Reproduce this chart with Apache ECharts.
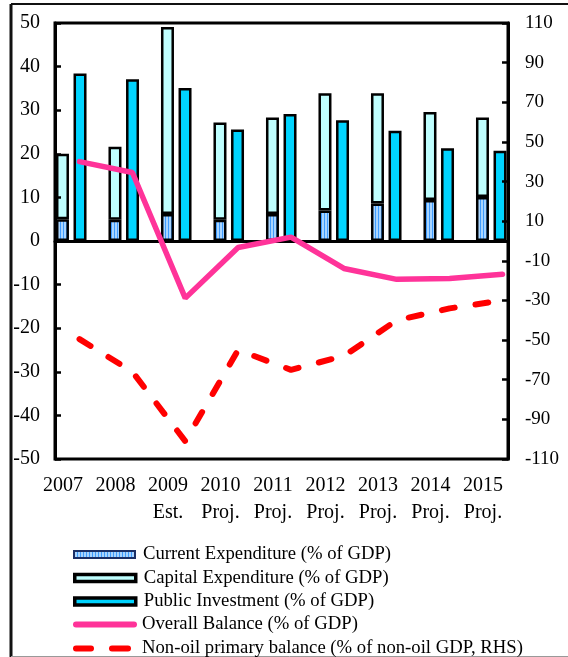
<!DOCTYPE html>
<html><head><meta charset="utf-8">
<script src="https://cdn.jsdelivr.net/npm/echarts@6/dist/echarts.min.js"></script>
<style>html,body{margin:0;padding:0;background:#fff}#c{width:568px;height:657px}</style>
</head><body><div id="c"></div>
<script>
const years = ['2007','2008','2009','2010','2011','2012','2013','2014','2015'];
const yearLabels = ['2007','2008','2009\nEst.','2010\nProj.','2011\nProj.','2012\nProj.','2013\nProj.','2014\nProj.','2015\nProj.'];
const currentExp = [5.0, 4.9, 6.2, 4.9, 6.2, 7.0, 8.6, 9.4, 10.1];
const capitalExp = [15.0, 16.7, 42.9, 22.3, 22.1, 26.9, 25.3, 20.2, 18.2];
const publicInv = [38.4, 37.1, 35.1, 25.6, 29.1, 27.7, 25.3, 21.3, 20.7];
const overallBal = [18.2, 15.7, -13.1, -1.5, 0.9, -6.3, -8.8, -8.6, -7.6];
const nonOilBal = [-49.5, -66, -101, -55, -65, -58, -40, -34, -30];
const leftTicks = {min: -50, max: 50, interval: 10};
const rightTicks = [-110, -90, -70, -50, -30, -10, 10, 30, 50, 70, 90, 110];

const names = ['Current Expenditure (% of GDP)','Capital Expenditure (% of GDP)','Public Investment (% of GDP)','Overall Balance (% of GDP)','Non-oil primary balance (% of non-oil GDP, RHS)'];

const pc = document.createElement('canvas');
pc.width = 3; pc.height = 4;
const ctx = pc.getContext('2d');
ctx.fillStyle = '#a9d5ff'; ctx.fillRect(0,0,3,4);
ctx.fillStyle = '#3f9cff'; ctx.fillRect(0,0,1,4);
const stripe = {image: pc, repeat: 'repeat'};

const FONT = 'Liberation Serif';
const chart = echarts.init(document.getElementById('c'));
const T = 23, B = 198;
const hiddenY = (g, mn, mx) => ({type:'value', gridIndex:g, min:mn, max:mx, show:false, splitLine:{show:false}});

const pillIcon = 'path://M3,0 H61 A3,3 0 0 1 61,6 H3 A3,3 0 0 1 3,0 Z';
const dashIcon = 'path://M3,0 H18 A3,3 0 0 1 18,6 H3 A3,3 0 0 1 3,0 Z M39,0 H55 A3,3 0 0 1 55,6 H39 A3,3 0 0 1 39,0 Z';
const legendCfg = [
  {top:545, icon:'rect', w:61, h:7, itemStyle:{borderColor:'#1b2f66', borderWidth:2}, pad:3},
  {top:568.5, icon:'rect', w:61, h:7, itemStyle:{borderColor:'#000', borderWidth:3.5}, pad:3},
  {top:592, icon:'rect', w:61, h:7, itemStyle:{borderColor:'#000', borderWidth:3.5}, pad:3},
  {top:615, icon:pillIcon, w:64, h:6, itemStyle:{borderWidth:0}, pad:0},
  {top:639, icon:dashIcon, w:58, h:6, itemStyle:{borderWidth:0}, pad:6}
];
const legends = names.map((n, i) => ({
  data: [n], left: 73, top: legendCfg[i].top, orient: 'horizontal',
  itemWidth: legendCfg[i].w, itemHeight: legendCfg[i].h, icon: legendCfg[i].icon,
  itemStyle: legendCfg[i].itemStyle,
  textStyle: {fontFamily: FONT, fontSize: 18.7, color: '#000', padding:[0,0,0,legendCfg[i].pad]},
  padding: 0, selectedMode: false
}));

chart.setOption({
  animation: false,
  backgroundColor: '#fff',
  graphic: [
    {type:'line', shape:{x1:11, y1:4, x2:568, y2:4}, style:{stroke:'#111', lineWidth:2}},
    {type:'line', shape:{x1:11, y1:4, x2:11, y2:657}, style:{stroke:'#111', lineWidth:3}},
    {type:'line', shape:{x1:11, y1:656.5, x2:568, y2:656.5}, style:{stroke:'#999', lineWidth:1}}
  ],
  legend: legends,
  grid: [
    {left:55, right:60, top:T, bottom:B, show:true, borderColor:'#000', borderWidth:3, backgroundColor:'transparent', z:3},
    {left:45, right:50.5, top:T, bottom:B},
    {left:79.5, right:65.5, top:T, bottom:B},
    {left:63, right:85, top:T, bottom:B}
  ],
  xAxis: [
    {type:'category', gridIndex:0, data:years, z:3,
      axisLine:{show:true, onZero:true, lineStyle:{color:'#000', width:3}},
      axisTick:{show:false}, axisLabel:{show:false}, splitLine:{show:false}},
    {type:'category', gridIndex:1, data:years, show:false},
    {type:'category', gridIndex:2, data:years, show:false, boundaryGap:false},
    {type:'category', gridIndex:3, data:yearLabels, boundaryGap:false,
      axisLine:{show:false}, axisTick:{show:false}, splitLine:{show:false},
      axisLabel:{show:true, interval:0, margin:13, fontFamily:FONT, fontSize:20, color:'#000', lineHeight:27}}
  ],
  yAxis: [
    {type:'value', gridIndex:0, position:'left', min:leftTicks.min, max:leftTicks.max, interval:leftTicks.interval, z:3,
      axisLine:{show:true, lineStyle:{color:'#000', width:3}},
      axisTick:{show:true, inside:true, length:6, lineStyle:{color:'#000', width:2.5}},
      axisLabel:{margin:15, fontFamily:FONT, fontSize:20, color:'#000'},
      splitLine:{show:false}},
    {type:'value', gridIndex:0, position:'right', min:-110, max:110, z:3,
      axisLine:{show:true, lineStyle:{color:'#000', width:3}},
      axisTick:{show:true, inside:true, length:6, lineStyle:{color:'#000', width:2.5}, customValues: rightTicks},
      axisLabel:{margin:17, fontFamily:FONT, fontSize:19, color:'#000', customValues: rightTicks},
      splitLine:{show:false}},
    hiddenY(1, -50, 50),
    hiddenY(2, -50, 50),
    hiddenY(2, -110, 110),
    hiddenY(3, -50, 50)
  ],
  series: [
    {name:names[0], type:'bar', xAxisIndex:1, yAxisIndex:2, stack:'exp', data:currentExp, barWidth:13, barGap:'35%',
      itemStyle:{color:stripe, borderColor:'#000', borderWidth:2.5}},
    {name:names[1], type:'bar', xAxisIndex:1, yAxisIndex:2, stack:'exp', data:capitalExp, barWidth:13, barGap:'35%',
      itemStyle:{color:'#bfffff', borderColor:'#000', borderWidth:2.5}},
    {name:names[2], type:'bar', xAxisIndex:1, yAxisIndex:2, data:publicInv, barWidth:13, barGap:'35%',
      itemStyle:{color:'#00d4ff', borderColor:'#000', borderWidth:2.5}},
    {name:names[3], type:'line', xAxisIndex:2, yAxisIndex:3, data:overallBal, symbol:'none', z:5,
      lineStyle:{color:'#ff3399', width:5.5, cap:'round'}, itemStyle:{color:'#ff3399'}},
    {name:names[4], type:'line', xAxisIndex:2, yAxisIndex:4, data:nonOilBal, symbol:'none', z:5,
      lineStyle:{color:'#ff0000', width:6, type:[13,21], cap:'round'}, itemStyle:{color:'#ff0000'}}
  ]
});
</script></body></html>
